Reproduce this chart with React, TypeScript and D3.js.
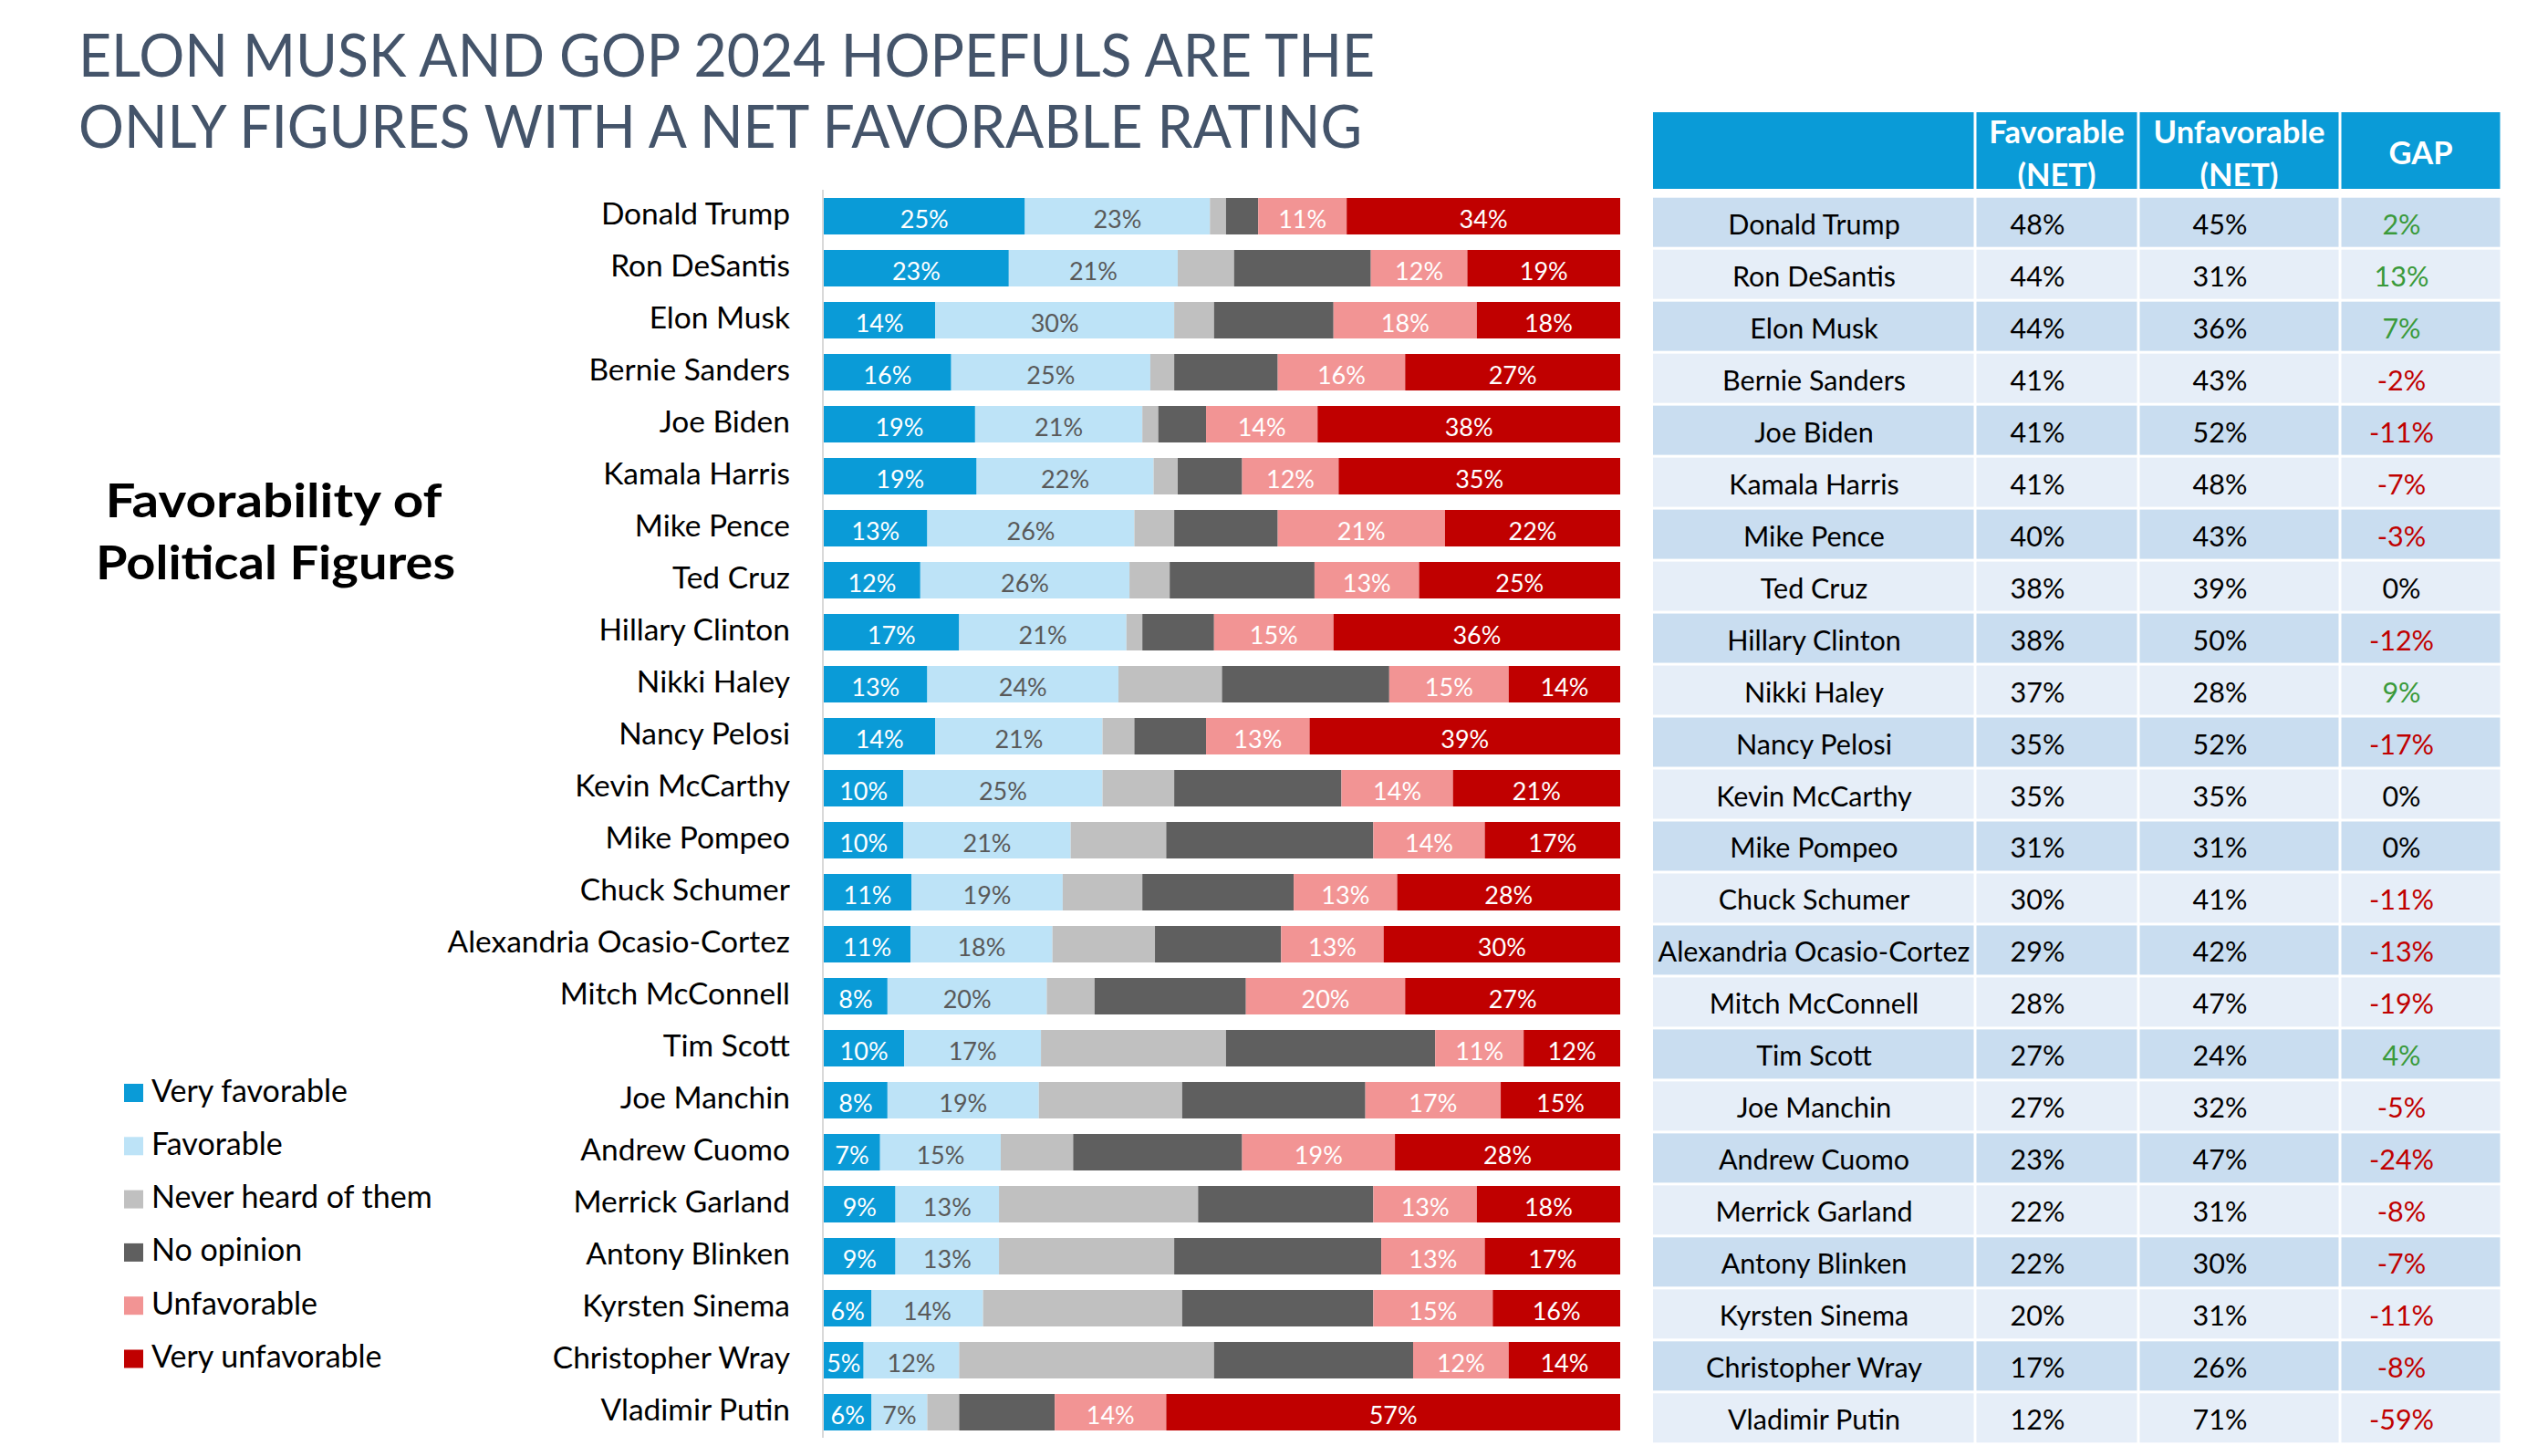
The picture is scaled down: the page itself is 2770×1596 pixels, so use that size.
import React from "react";
import * as d3 from "d3";

const categories = [
  "Donald Trump", "Ron DeSantis", "Elon Musk", "Bernie Sanders", "Joe Biden", "Kamala Harris",
  "Mike Pence", "Ted Cruz", "Hillary Clinton", "Nikki Haley", "Nancy Pelosi", "Kevin McCarthy",
  "Mike Pompeo", "Chuck Schumer", "Alexandria Ocasio-Cortez", "Mitch McConnell", "Tim Scott",
  "Joe Manchin", "Andrew Cuomo", "Merrick Garland", "Antony Blinken", "Kyrsten Sinema",
  "Christopher Wray", "Vladimir Putin",
];

const veryFavorable = [25, 23, 14, 16, 19, 19, 13, 12, 17, 13, 14, 10, 10, 11, 11, 8, 10, 8, 7, 9, 9, 6, 5, 6];
const favorable = [23, 21, 30, 25, 21, 22, 26, 26, 21, 24, 21, 25, 21, 19, 18, 20, 17, 19, 15, 13, 13, 14, 12, 7];
const neverHeard = [2, 7, 5, 3, 2, 3, 5, 5, 2, 13, 4, 9, 12, 10, 13, 6, 23, 18, 9, 25, 22, 25, 32, 4];
const noOpinion = [4, 17, 15, 13, 6, 8, 13, 18, 9, 21, 9, 21, 26, 19, 16, 19, 26, 23, 21, 22, 26, 24, 25, 12];
const unfavorable = [11, 12, 18, 16, 14, 12, 21, 13, 15, 15, 13, 14, 14, 13, 13, 20, 11, 17, 19, 13, 13, 15, 12, 14];
const veryUnfavorable = [34, 19, 18, 27, 38, 35, 22, 25, 36, 14, 39, 21, 17, 28, 30, 27, 12, 15, 28, 18, 17, 16, 14, 57];

const favorableNet = [48, 44, 44, 41, 41, 41, 40, 38, 38, 37, 35, 35, 31, 30, 29, 28, 27, 27, 23, 22, 22, 20, 17, 12];
const unfavorableNet = [45, 31, 36, 43, 52, 48, 43, 39, 50, 28, 52, 35, 31, 41, 42, 47, 24, 32, 47, 31, 30, 31, 26, 71];
const gapValues = [2, 13, 7, -2, -11, -7, -3, 0, -12, 9, -17, 0, 0, -11, -13, -19, 4, -5, -24, -8, -7, -11, -8, -59];

const seriesKeys = ["vf", "f", "nh", "no", "u", "vu"];
const seriesNames = ["Very favorable", "Favorable", "Never heard of them", "No opinion", "Unfavorable", "Very unfavorable"];
const seriesColors = ["#0A9BD7", "#BDE3F7", "#C0C0C0", "#5F5F5F", "#F29494", "#C00000"];
const labelColors = ["#FFFFFF", "#595959", null, null, "#FFFFFF", "#FFFFFF"];

const tableHeaders = [["Favorable", "(NET)"], ["Unfavorable", "(NET)"], ["GAP"]];

const titleLines = ["ELON MUSK AND GOP 2024 HOPEFULS ARE THE", "ONLY FIGURES WITH A NET FAVORABLE RATING"];
const titleWidths = [1421, 1407];
const subtitleLines = ["Favorability of", "Political Figures"];
const subtitleWidths = [369, 394];

const FONT = "Lato, 'Open Sans', sans-serif";

export default function App() {
  const W = 2770, H = 1596;
  const rows = categories.map((c, i) => ({
    name: c,
    vf: veryFavorable[i], f: favorable[i], nh: neverHeard[i], no: noOpinion[i], u: unfavorable[i], vu: veryUnfavorable[i],
  }));
  const stack = d3.stack<any>().keys(seriesKeys).offset(d3.stackOffsetExpand);
  const stacked = stack(rows);

  const x = d3.scaleLinear().domain([0, 1]).range([903, 1776]);
  const y = d3.scaleBand<string>().domain(categories).range([208.5, 208.5 + 24 * 57]).paddingInner(0.298).paddingOuter(0.149);

  // table
  const colEdges = [1812, 2165, 2344, 2565, 2742];
  const ty = d3.scaleBand<string>().domain(categories).range([216.7, 1584.3]).paddingInner(0).paddingOuter(0);
  const gapCell = 3;
  const valueOffset = -21;

  const legendY = d3.scaleBand<string>().domain(seriesNames).range([1168.5, 1168.5 + 6 * 58.3]);

  return (
    <svg width={W} height={H} style={{ position: "absolute", left: 0, top: 0, background: "#fff" }} fontFamily={FONT}>
      <rect x={0} y={0} width={W} height={H} fill="#fff" />
      {titleLines.map((t, i) => (
        <text key={t} x={86} y={84 + i * 78} fontSize={65} fill="#44546A" textLength={titleWidths[i]} lengthAdjust="spacingAndGlyphs">{t}</text>
      ))}
      {subtitleLines.map((t, i) => (
        <text key={t} x={300 - subtitleWidths[i] / 2 + (i === 0 ? 0 : 2)} y={567 + i * 68} fontSize={51} fontWeight={700} fill="#000"
          textLength={subtitleWidths[i]} lengthAdjust="spacingAndGlyphs">{t}</text>
      ))}

      {/* legend */}
      {seriesNames.map((n, i) => (
        <g key={n}>
          <rect x={136} y={(legendY(n) as number) + 19.5} width={21} height={20} fill={seriesColors[i]} />
          <text x={166} y={(legendY(n) as number) + 39} fontSize={34} fill="#000">{n}</text>
        </g>
      ))}

      {/* axis line */}
      <line x1={902} x2={902} y1={208} y2={1576} stroke="#D9D9D9" strokeWidth={2} />

      {/* category labels */}
      {categories.map((c) => (
        <text key={c} x={866} y={(y(c) as number) + y.bandwidth() / 2 - 4} fontSize={33.5} fill="#000" textAnchor="end" dominantBaseline="central">{c}</text>
      ))}

      {/* bars */}
      {stacked.map((layer, si) => (
        <g key={layer.key}>
          {layer.map((d, i) => {
            const x0 = x(d[0]), x1 = x(d[1]);
            const yy = y(categories[i]) as number;
            const raw = (d.data as any)[layer.key] as number;
            return (
              <g key={i}>
                <rect x={x0} y={yy} width={Math.max(0, x1 - x0)} height={y.bandwidth()} fill={seriesColors[si]} />
                {labelColors[si] && (
                  <text x={(x0 + x1) / 2} y={yy + y.bandwidth() / 2 + 2} fontSize={27} fill={labelColors[si] as string}
                    textAnchor="middle" dominantBaseline="central">{raw}%</text>
                )}
              </g>
            );
          })}
        </g>
      ))}

      {/* table header */}
      <defs>
        {colEdges.slice(0, -1).map((e, j) => (
          <clipPath id={`hclip${j}`} key={j}>
            <rect x={e + (j === 0 ? 0 : gapCell / 2)} y={123} width={colEdges[j + 1] - e - (j === 0 ? gapCell / 2 : gapCell)} height={84} />
          </clipPath>
        ))}
      </defs>
      {colEdges.slice(0, -1).map((e, j) => (
        <rect key={j} x={e + (j === 0 ? 0 : gapCell / 2)} y={123} width={colEdges[j + 1] - e - (j === 0 ? gapCell / 2 : gapCell)} height={84} fill="#0A9BD7" />
      ))}
      {tableHeaders.map((lines, j) => {
        const cx = (colEdges[j + 1] + colEdges[j + 2]) / 2;
        return (
          <g key={j} clipPath={`url(#hclip${j + 1})`}>
            {lines.length === 1 ? (
              <text x={cx} y={180} fontSize={34.5} fontWeight={700} fill="#fff" textAnchor="middle">{lines[0]}</text>
            ) : (
              lines.map((l, k) => (
                <text key={k} x={cx} y={157 + k * 47} fontSize={34.5} fontWeight={700} fill="#fff" textAnchor="middle">{l}</text>
              ))
            )}
          </g>
        );
      })}

      {/* table rows */}
      {categories.map((c, i) => {
        const top = ty(c) as number;
        const h = ty.bandwidth() - gapCell;
        const cy = top + h / 2;
        const fill = i % 2 === 0 ? "#C9DDF0" : "#E6EEF8";
        const g = gapValues[i];
        const gColor = g > 0 ? "#3A9A3A" : g < 0 ? "#C00000" : "#000";
        const vals = [`${favorableNet[i]}%`, `${unfavorableNet[i]}%`, `${g}%`];
        return (
          <g key={c}>
            {colEdges.slice(0, -1).map((e, j) => (
              <rect key={j} x={e + (j === 0 ? 0 : gapCell / 2)} y={top} width={colEdges[j + 1] - e - (j === 0 ? gapCell / 2 : gapCell)} height={h} fill={fill} />
            ))}
            <text x={(colEdges[0] + colEdges[1]) / 2} y={cy + 1} fontSize={30.5} fill="#000" textAnchor="middle" dominantBaseline="central">{c}</text>
            {vals.map((v, j) => (
              <text key={j} x={(colEdges[j + 1] + colEdges[j + 2]) / 2 + valueOffset} y={cy + 1} fontSize={30.5}
                fill={j === 2 ? gColor : "#000"} textAnchor="middle" dominantBaseline="central">{v}</text>
            ))}
          </g>
        );
      })}
    </svg>
  );
}
